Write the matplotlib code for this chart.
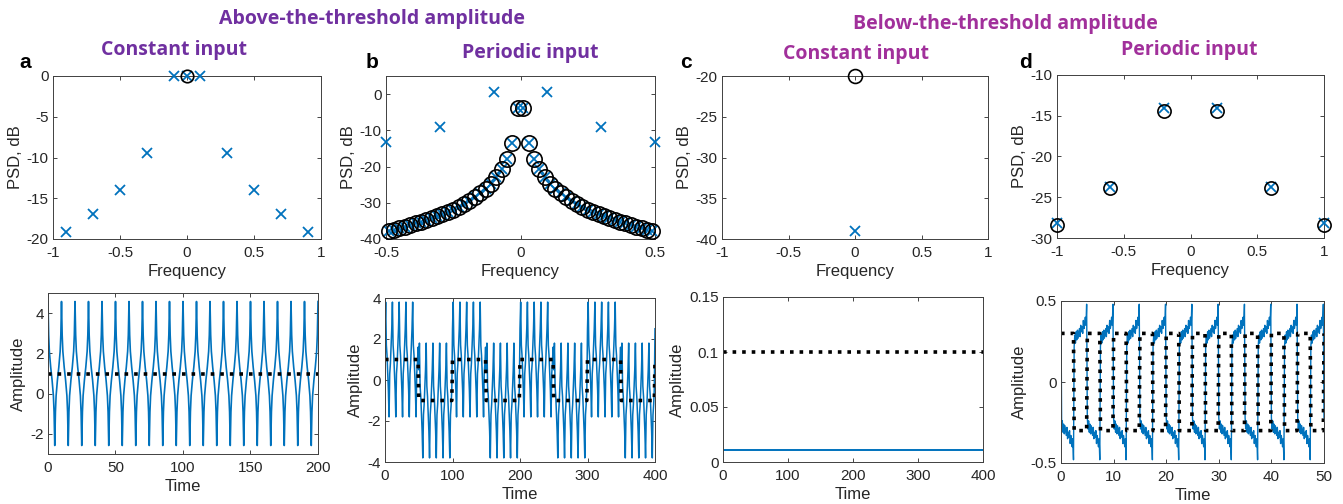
import numpy as np
import matplotlib
matplotlib.use("Agg")
import matplotlib.pyplot as plt
from matplotlib.ticker import FuncFormatter

# ---------------- data ----------------
# Panel a (above threshold, constant input)
a_out_freq = [-0.9, -0.7, -0.5, -0.3, -0.1, 0.0, 0.1, 0.3, 0.5, 0.7, 0.9]
a_out_psd = [-19.1, -16.9, -14.0, -9.5, 0.0, 0.0, 0.0, -9.5, -14.0, -16.9, -19.1]
a_in_freq = [0.0]
a_in_psd = [0.0]
a_in_level = 1.0
a_t_end, a_dt = 200, 0.5

# Panel b (above threshold, periodic input)
b_in_freq_pos = [0.01, 0.03, 0.05, 0.07, 0.09, 0.11, 0.13, 0.15, 0.17, 0.19, 0.21, 0.23, 0.25,
                 0.27, 0.29, 0.31, 0.33, 0.35, 0.37, 0.39, 0.41, 0.43, 0.45, 0.47, 0.49]
b_in_psd_pos = [-3.9, -13.5, -17.9, -20.8, -23.0, -24.7, -26.2, -27.4, -28.5, -29.5, -30.4, -31.2,
                -31.9, -32.5, -33.2, -33.7, -34.3, -34.8, -35.3, -35.7, -36.2, -36.6, -37.0, -37.4, -37.7]
b_spk_freq = [-0.5, -0.3, -0.1, 0.1, 0.3, 0.5]
b_spk_psd = [-13.3, -9.0, 0.5, 0.5, -9.0, -13.3]
b_in_levels = [1, -1]          # square-wave input levels
b_in_half_period = 50
b_spike_period = [1.5, 2.8, 0.7, 0.2, -0.6, -1.5, -2.8, -0.7, -0.2, 0.6]   # one 10-unit period, dt = 1
b_t_end = 400

# Panel c (below threshold, constant input)
c_in_freq = [0.0]
c_in_psd = [-20.0]
c_out_freq = [0.0]
c_out_psd = [-39.0]
c_in_level = 0.1
c_out_level = 0.011
c_t_end = 400

# Panel d (below threshold, periodic input)
d_freq = [-1.0, -0.6, -0.2, 0.2, 0.6, 1.0]
d_in_psd = [-28.4, -23.9, -14.4, -14.4, -23.9, -28.4]
d_out_psd = [-28.1, -23.7, -14.1, -14.1, -23.7, -28.1]
d_in_levels = [0.3, -0.3]
d_in_half_period = 2.5
d_out_high_half = [0.22, 0.29, 0.24, 0.31, 0.26, 0.32, 0.27, 0.30, 0.33, 0.28, 0.35, 0.31, 0.34,
                   0.30, 0.38, 0.33, 0.36, 0.40, 0.35, 0.48]   # output over a "high" half period
d_out_start = 0.42
d_t_end = 50

# ---------------- style ----------------
BLUE = "#0072BD"
AXC = "#262626"
PURPLE = "#7030A0"
MAGENTA = "#A1309B"
plt.rcParams["font.family"] = ["Liberation Sans", "DejaVu Sans"]
plt.rcParams["axes.linewidth"] = 0.7

W, H = 1343, 504
fig = plt.figure(figsize=(W / 100, H / 100), dpi=100)
gfmt = FuncFormatter(lambda v, p: "%g" % round(v, 6))


def ax_px(l, t, r, b):
    return fig.add_axes([l / W, 1 - b / H, (r - l) / W, (b - t) / H])


def style(ax, xlabel, ylabel):
    ax.tick_params(direction="in", top=True, right=True, length=3, width=0.6,
                   colors=AXC, labelsize=11)
    ax.tick_params(axis="x", pad=5)
    ax.tick_params(axis="y", pad=3)
    ax.xaxis.set_major_formatter(gfmt)
    ax.yaxis.set_major_formatter(gfmt)
    for s in ax.spines.values():
        s.set_color("#404040")
    ax.set_xlabel(xlabel, fontsize=12, color=AXC, labelpad=3)
    ax.set_ylabel(ylabel, fontsize=12, color=AXC, labelpad=3)


def psd_plot(ax, fo, po, fi, pi, msx, msc):
    ax.plot(fo, po, "x", color=BLUE, ms=msx, mew=1.3, clip_on=False, zorder=3)
    ax.plot(fi, pi, "o", mfc="none", mec="black", ms=msc, mew=1.2, clip_on=False, zorder=4)


# ---- panel a ----
ax = ax_px(53, 76, 321, 239)
psd_plot(ax, a_out_freq, a_out_psd, a_in_freq, a_in_psd, 7, 9)
ax.set_xlim(-1, 1); ax.set_ylim(-20, 0)
ax.set_xticks([-1, -0.5, 0, 0.5, 1]); ax.set_yticks([-20, -15, -10, -5, 0])
style(ax, "Frequency", "PSD, dB")

ax = ax_px(48, 293, 318, 454)
ta = np.arange(0, a_t_end + a_dt / 2, a_dt)
xa = np.zeros_like(ta)
for f, p in zip(a_out_freq, a_out_psd):
    xa += 10 ** (p / 20) * np.cos(2 * np.pi * f * ta)
ax.plot(ta, xa, color=BLUE, lw=1.2)
ax.plot([0, a_t_end], [a_in_level, a_in_level], ":", color="black", lw=2.6)
ax.set_xlim(0, a_t_end); ax.set_ylim(-3, 5)
ax.set_xticks([0, 50, 100, 150, 200]); ax.set_yticks([-2, 0, 2, 4])
style(ax, "Time", "Amplitude")

# ---- panel b ----
ax = ax_px(386, 76, 655, 239)
b_in_freq = [-f for f in b_in_freq_pos[::-1]] + b_in_freq_pos
b_in_psd = b_in_psd_pos[::-1] + b_in_psd_pos
psd_plot(ax, b_in_freq + b_spk_freq, b_in_psd + b_spk_psd, b_in_freq, b_in_psd, 7, 11)
ax.set_xlim(-0.5, 0.5); ax.set_ylim(-40, 5)
ax.set_xticks([-0.5, 0, 0.5]); ax.set_yticks([-40, -30, -20, -10, 0])
style(ax, "Frequency", "PSD, dB")

ax = ax_px(385, 298, 655, 462)
tb = np.arange(0, b_t_end + 1)
inb = np.array([b_in_levels[(int(t) // b_in_half_period) % 2] for t in tb], float)
spk = np.array([b_spike_period[int(t) % len(b_spike_period)] for t in tb])
ax.plot(tb, inb + spk, color=BLUE, lw=1.1)
ax.plot(tb, inb, ":", color="black", lw=2.6)
ax.set_xlim(0, b_t_end); ax.set_ylim(-4, 4)
ax.set_xticks([0, 100, 200, 300, 400]); ax.set_yticks([-4, -2, 0, 2, 4])
style(ax, "Time", "Amplitude")

# ---- panel c ----
ax = ax_px(722, 76, 988, 239)
psd_plot(ax, c_out_freq, c_out_psd, c_in_freq, c_in_psd, 7, 10)
ax.set_xlim(-1, 1); ax.set_ylim(-40, -20)
ax.set_xticks([-1, -0.5, 0, 0.5, 1]); ax.set_yticks([-40, -35, -30, -25, -20])
style(ax, "Frequency", "PSD, dB")

ax = ax_px(723, 297, 983, 462)
ax.plot([0, c_t_end], [c_out_level, c_out_level], color=BLUE, lw=1.4)
ax.plot([0, c_t_end], [c_in_level, c_in_level], ":", color="black", lw=2.6)
ax.set_xlim(0, c_t_end); ax.set_ylim(0, 0.15)
ax.set_xticks([0, 100, 200, 300, 400]); ax.set_yticks([0, 0.05, 0.1, 0.15])
style(ax, "Time", "Amplitude")

# ---- panel d ----
ax = ax_px(1057, 75, 1324, 238)
psd_plot(ax, d_freq, d_out_psd, d_freq, d_in_psd, 7, 9.5)
ax.set_xlim(-1, 1); ax.set_ylim(-30, -10)
ax.set_xticks([-1, -0.5, 0, 0.5, 1]); ax.set_yticks([-30, -25, -20, -15, -10])
style(ax, "Frequency", "PSD, dB")

ax = ax_px(1061, 301, 1324, 463)
n_half = len(d_out_high_half)
dtd = d_in_half_period / n_half
td = np.arange(0, d_t_end + dtd / 2, dtd)
idx = np.rint(td / dtd).astype(int)
ind = np.array([d_in_levels[(i // n_half) % 2] for i in idx])
outd = np.array([(1 if (i // n_half) % 2 else -1) * d_out_high_half[i % n_half] for i in idx])
outd[0] = d_out_start
ax.plot(td, outd, color=BLUE, lw=1.0)
ax.plot(td, ind, ":", color="black", lw=2.6)
ax.set_xlim(0, d_t_end); ax.set_ylim(-0.5, 0.5)
ax.set_xticks([0, 10, 20, 30, 40, 50]); ax.set_yticks([-0.5, 0, 0.5])
style(ax, "Time", "Amplitude")

# ---- texts ----
def ftext(x, y, s, **kw):
    fig.text(x / W, 1 - y / H, s, ha="center", va="center", **kw)

tkw = dict(fontsize=14, fontweight="bold", family=["Open Sans", "DejaVu Sans"])
ftext(372, 19, "Above-the-threshold amplitude", color=PURPLE, **tkw)
ftext(174, 50, "Constant input", color=PURPLE, **tkw)
ftext(530, 53, "Periodic input", color=PURPLE, **tkw)
ftext(1005, 24, "Below-the-threshold amplitude", color=MAGENTA, **tkw)
ftext(856, 54, "Constant input", color=MAGENTA, **tkw)
ftext(1189, 50, "Periodic input", color=MAGENTA, **tkw)

lkw = dict(fontsize=15, fontweight="bold", color="black", family=["Liberation Sans", "DejaVu Sans"])
ftext(25, 63, "a", **lkw)
ftext(372, 62, "b", **lkw)
ftext(686, 63, "c", **lkw)
ftext(1025, 62, "d", **lkw)

fig.savefig("out.png", dpi=100)
